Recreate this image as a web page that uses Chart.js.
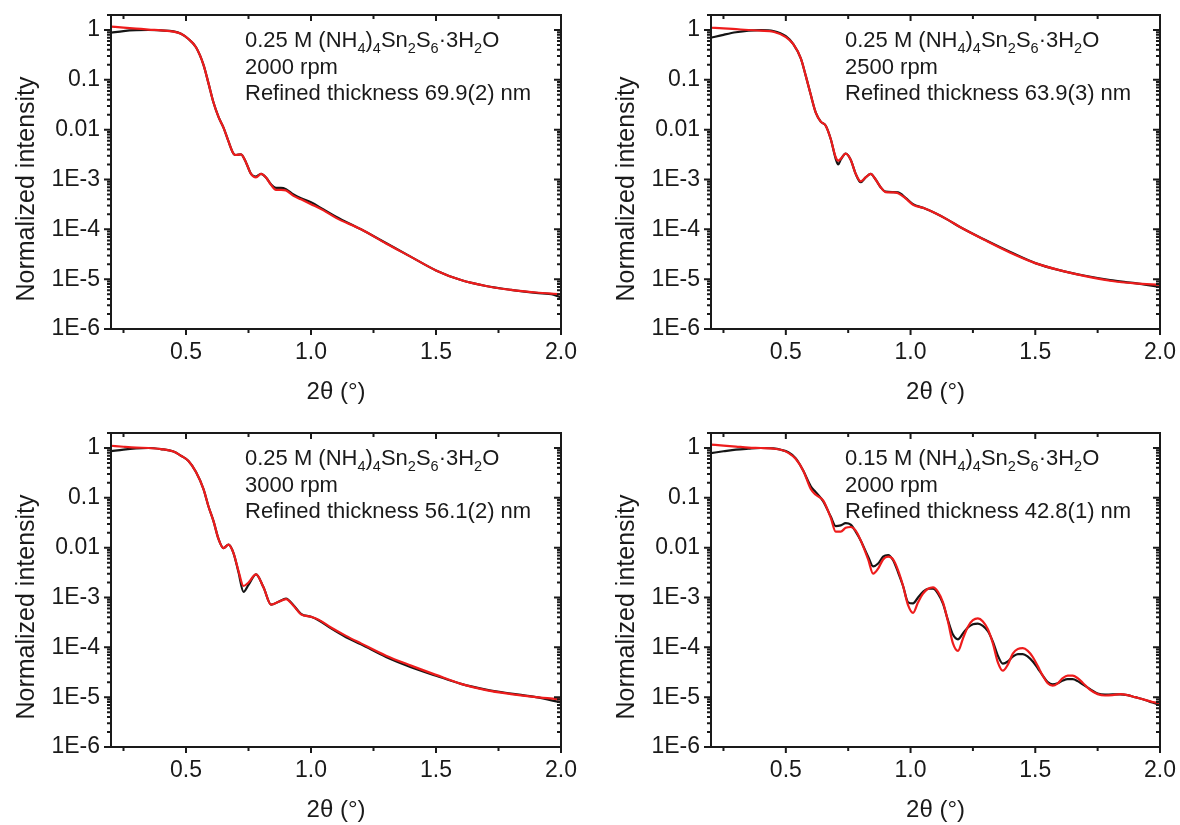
<!DOCTYPE html>
<html>
<head>
<meta charset="utf-8">
<script src="https://cdn.jsdelivr.net/npm/chart.js@4.4.0/dist/chart.umd.min.js"></script>
<style>
  body { margin: 0; background: #fff; width: 1180px; height: 825px; position: relative; overflow: hidden; }
  .panel { position: absolute; width: 590px; height: 407px; }
</style>
</head>
<body>
<div class="panel" style="left:0;top:0"><canvas id="c1" width="590" height="407"></canvas></div>
<div class="panel" style="left:600px;top:0"><canvas id="c2" width="590" height="407"></canvas></div>
<div class="panel" style="left:0;top:418px"><canvas id="c3" width="590" height="407"></canvas></div>
<div class="panel" style="left:600px;top:418px"><canvas id="c4" width="590" height="407"></canvas></div>
<script>
// --- data (2theta in degrees, normalized intensity) ---
const xs1 = [0.2, 0.25, 0.3, 0.35, 0.4, 0.45, 0.48, 0.51, 0.54, 0.57, 0.59, 0.61, 0.63, 0.65, 0.67, 0.69, 0.70, 0.72, 0.74, 0.76, 0.78, 0.80, 0.82, 0.84, 0.86, 0.88, 0.90, 0.93, 0.96, 1.0, 1.05, 1.1, 1.2, 1.3, 1.4, 1.5, 1.6, 1.7, 1.8, 1.9, 1.97, 2.0];
const obs1 = [0.88, 0.95, 0.99, 1.0, 0.98, 0.94, 0.84, 0.66, 0.45, 0.2, 0.085, 0.035, 0.018, 0.011, 0.0058, 0.0033, 0.0031, 0.0032, 0.0022, 0.0013, 0.00115, 0.0013, 0.0011, 0.0008, 0.00068, 0.00068, 0.00064, 0.0005, 0.00042, 0.00035, 0.00025, 0.00018, 0.0001, 5.3e-5, 2.8e-5, 1.5e-5, 9.6e-6, 7.3e-6, 6.1e-6, 5.3e-6, 4.9e-6, 4.3e-6];
const fit1 = [1.17, 1.12, 1.07, 1.02, 0.98, 0.93, 0.84, 0.66, 0.45, 0.2, 0.085, 0.035, 0.018, 0.011, 0.0058, 0.0033, 0.0031, 0.0032, 0.0022, 0.0013, 0.0011, 0.0013, 0.0011, 0.00078, 0.00062, 0.00062, 0.0006, 0.00047, 0.0004, 0.00032, 0.00024, 0.00017, 0.0001, 5.2e-5, 2.8e-5, 1.5e-5, 9.6e-6, 7.3e-6, 6.1e-6, 5.4e-6, 5.1e-6, 5.0e-6];

const xs2 = [0.2, 0.25, 0.3, 0.35, 0.4, 0.45, 0.5, 0.53, 0.56, 0.58, 0.6, 0.62, 0.64, 0.66, 0.68, 0.70, 0.71, 0.72, 0.74, 0.76, 0.78, 0.80, 0.82, 0.84, 0.86, 0.88, 0.90, 0.93, 0.95, 0.98, 1.01, 1.05, 1.1, 1.15, 1.2, 1.3, 1.4, 1.5, 1.6, 1.7, 1.8, 1.9, 2.0];
const obs2 = [0.70, 0.80, 0.90, 0.97, 0.99, 0.95, 0.75, 0.52, 0.27, 0.12, 0.05, 0.022, 0.0145, 0.012, 0.0065, 0.0026, 0.0020, 0.0025, 0.0033, 0.0025, 0.0013, 0.00088, 0.0011, 0.0013, 0.001, 0.0007, 0.00057, 0.00056, 0.00055, 0.00043, 0.00032, 0.00027, 0.00021, 0.000155, 0.00011, 6.1e-5, 3.5e-5, 2.1e-5, 1.5e-5, 1.17e-5, 9.6e-6, 8.3e-6, 7.0e-6];
const fit2 = [1.11, 1.08, 1.04, 1.0, 0.97, 0.92, 0.72, 0.52, 0.27, 0.12, 0.05, 0.022, 0.0145, 0.012, 0.0065, 0.0028, 0.0024, 0.0026, 0.0033, 0.0025, 0.0013, 0.00092, 0.0011, 0.0013, 0.001, 0.0007, 0.00056, 0.00055, 0.00053, 0.00042, 0.00031, 0.00027, 0.00021, 0.000155, 0.00011, 6.0e-5, 3.4e-5, 2.1e-5, 1.5e-5, 1.15e-5, 9.3e-6, 8.2e-6, 7.7e-6];

const xs3 = [0.2, 0.25, 0.3, 0.35, 0.4, 0.45, 0.48, 0.51, 0.54, 0.57, 0.59, 0.61, 0.63, 0.65, 0.67, 0.69, 0.71, 0.73, 0.75, 0.78, 0.81, 0.84, 0.87, 0.9, 0.93, 0.96, 1.0, 1.03, 1.08, 1.14, 1.2, 1.3, 1.4, 1.5, 1.6, 1.7, 1.8, 1.9, 2.0];
const obs3 = [0.86, 0.93, 0.98, 1.0, 0.95, 0.85, 0.7, 0.55, 0.33, 0.15, 0.067, 0.034, 0.015, 0.0098, 0.0115, 0.0078, 0.0032, 0.0013, 0.0018, 0.0029, 0.0016, 0.00072, 0.00082, 0.00095, 0.0007, 0.00047, 0.00041, 0.00035, 0.00024, 0.00016, 0.000115, 6.4e-5, 4.0e-5, 2.7e-5, 1.85e-5, 1.42e-5, 1.18e-5, 1.0e-5, 7.8e-6];
const fit3 = [1.11, 1.06, 1.02, 1.0, 0.95, 0.85, 0.7, 0.55, 0.33, 0.15, 0.067, 0.034, 0.015, 0.0098, 0.0115, 0.0078, 0.0034, 0.0017, 0.002, 0.0029, 0.0016, 0.00072, 0.00082, 0.00093, 0.00068, 0.00046, 0.00041, 0.00036, 0.00025, 0.00017, 0.00012, 6.8e-5, 4.3e-5, 2.8e-5, 1.85e-5, 1.38e-5, 1.15e-5, 1.0e-5, 9.0e-6];

const xs4 = [0.2, 0.25, 0.3, 0.35, 0.4, 0.45, 0.48, 0.51, 0.54, 0.57, 0.6, 0.62, 0.65, 0.68, 0.70, 0.72, 0.74, 0.76, 0.78, 0.80, 0.83, 0.85, 0.87, 0.89, 0.91, 0.93, 0.95, 0.97, 0.99, 1.01, 1.03, 1.05, 1.07, 1.09, 1.11, 1.13, 1.15, 1.17, 1.19, 1.21, 1.23, 1.25, 1.27, 1.29, 1.31, 1.33, 1.35, 1.37, 1.39, 1.41, 1.43, 1.45, 1.47, 1.49, 1.51, 1.53, 1.55, 1.57, 1.59, 1.61, 1.63, 1.65, 1.67, 1.69, 1.72, 1.75, 1.78, 1.81, 1.84, 1.87, 1.90, 1.94, 1.97, 2.0];
const obs4 = [0.79, 0.86, 0.93, 0.97, 1.0, 0.98, 0.92, 0.82, 0.62, 0.35, 0.17, 0.13, 0.085, 0.042, 0.027, 0.028, 0.031, 0.029, 0.021, 0.014, 0.0066, 0.0042, 0.0048, 0.0066, 0.0071, 0.0056, 0.0032, 0.0017, 0.0008, 0.00076, 0.001, 0.0013, 0.0015, 0.0015, 0.0012, 0.00075, 0.00035, 0.00018, 0.000145, 0.00019, 0.00025, 0.00029, 0.0003, 0.00027, 0.00021, 0.00013, 6.8e-5, 4.7e-5, 5.2e-5, 6.5e-5, 7.3e-5, 7.3e-5, 6.5e-5, 5.2e-5, 3.8e-5, 2.7e-5, 2.0e-5, 1.8e-5, 1.9e-5, 2.15e-5, 2.3e-5, 2.3e-5, 2.1e-5, 1.8e-5, 1.45e-5, 1.18e-5, 1.12e-5, 1.14e-5, 1.14e-5, 1.1e-5, 1.0e-5, 8.8e-6, 7.8e-6, 7.0e-6];
const fit4 = [1.17, 1.12, 1.07, 1.02, 1.0, 0.97, 0.92, 0.8, 0.6, 0.35, 0.15, 0.115, 0.088, 0.04, 0.021, 0.021, 0.025, 0.026, 0.022, 0.014, 0.0058, 0.003, 0.0038, 0.0058, 0.0066, 0.0058, 0.0035, 0.0017, 0.0007, 0.00049, 0.0008, 0.0012, 0.0015, 0.0016, 0.0013, 0.0008, 0.00033, 0.00012, 8.5e-5, 0.00015, 0.00026, 0.00035, 0.00038, 0.00033, 0.00023, 0.00012, 5.0e-5, 3.4e-5, 4.5e-5, 7.5e-5, 9.3e-5, 9.6e-5, 8.5e-5, 6.4e-5, 4.2e-5, 2.7e-5, 1.9e-5, 1.7e-5, 1.9e-5, 2.4e-5, 2.7e-5, 2.7e-5, 2.4e-5, 1.95e-5, 1.4e-5, 1.15e-5, 1.08e-5, 1.1e-5, 1.15e-5, 1.1e-5, 1.0e-5, 8.8e-6, 8.0e-6, 7.6e-6];

const concentrations = ['0.25', '0.25', '0.25', '0.15'];
const speeds = ['2000 rpm', '2500 rpm', '3000 rpm', '2000 rpm'];
const thicknesses = ['69.9(2)', '63.9(3)', '56.1(2)', '42.8(1)'];

const xTickValues = [0.5, 1.0, 1.5, 2.0];
const xMinorValues = [0.25, 0.75, 1.25, 1.75];
const yTickValues = [1, 0.1, 0.01, 1e-3, 1e-4, 1e-5, 1e-6];
const yTickLabels = ['1', '0.1', '0.01', '1E-3', '1E-4', '1E-5', '1E-6'];
const yTitle = 'Normalized intensity';

const FONT = "'Liberation Sans', Arial, sans-serif";
const INK = '#1a1a1a';

// rich text with subscripts for the sample description
function drawRich(ctx, parts, x, y, size) {
  let cx = x;
  parts.forEach(([txt, kind]) => {
    const s = kind === 'sub' ? size * 0.66 : size;
    const dy = kind === 'sub' ? size * 0.28 : 0;
    ctx.font = s + 'px ' + FONT;
    ctx.fillText(txt, cx, y + dy);
    cx += ctx.measureText(txt).width;
  });
}

const framePlugin = {
  id: 'frame',
  afterDraw(chart, args, opts) {
    const { ctx, chartArea: a } = chart;
    const xs = chart.scales.x, ys = chart.scales.y;
    ctx.save();
    ctx.strokeStyle = INK;
    ctx.lineWidth = 2;
    ctx.strokeRect(a.left, a.top, a.right - a.left, a.bottom - a.top);

    ctx.beginPath();
    // x ticks: out at bottom, in at top
    xTickValues.concat(xMinorValues).forEach(v => {
      const px = xs.getPixelForValue(v);
      const len = xTickValues.includes(v) ? 6 : 4;
      ctx.moveTo(px, a.bottom); ctx.lineTo(px, a.bottom + len);
      ctx.moveTo(px, a.top); ctx.lineTo(px, a.top + len);
    });
    // y ticks: decades and log minors, out on left, in on right
    for (let e = -6; e <= 0; e++) {
      for (let k = 1; k <= 9; k++) {
        const v = k * Math.pow(10, e);
        if (v > ys.max) continue;
        const py = ys.getPixelForValue(v);
        const len = k === 1 ? 7 : 4;
        ctx.moveTo(a.left, py); ctx.lineTo(a.left - len, py);
        ctx.moveTo(a.right, py); ctx.lineTo(a.right - len, py);
      }
    }
    ctx.stroke();

    // y title, sits a little below the plot centre like the original
    ctx.fillStyle = INK;
    ctx.save();
    ctx.translate(27, (a.top + a.bottom) / 2 + 17);
    ctx.rotate(-Math.PI / 2);
    ctx.font = '25px ' + FONT;
    ctx.textAlign = 'center';
    ctx.textBaseline = 'middle';
    ctx.fillText(yTitle, 0, 0);
    ctx.restore();

    // sample annotation
    ctx.textBaseline = 'alphabetic';
    const tx = a.left + 134, ty = a.top + 32, size = 22;
    drawRich(ctx, [[opts.conc + ' M (NH', 'n'], ['4', 'sub'], [')', 'n'], ['4', 'sub'], ['Sn', 'n'], ['2', 'sub'],
      ['S', 'n'], ['6', 'sub'], ['\u00b73H', 'n'], ['2', 'sub'], ['O', 'n']], tx, ty, size);
    drawRich(ctx, [[opts.speed, 'n']], tx, ty + 27, size);
    drawRich(ctx, [['Refined thickness ' + opts.thick + ' nm', 'n']], tx, ty + 53, size);
    ctx.restore();
  }
};

function makePanel(id, idx, xs, obs, fit, padRight) {
  const toPts = arr => xs.map((x, i) => ({ x: x, y: arr[i] }));
  new Chart(document.getElementById(id), {
    type: 'line',
    data: {
      datasets: [
        { label: 'fit', data: toPts(fit), borderColor: '#ee1c1c', borderWidth: 2.2, pointRadius: 0, cubicInterpolationMode: 'monotone' },
        { label: 'data', data: toPts(obs), borderColor: '#151515', borderWidth: 2.2, pointRadius: 0, cubicInterpolationMode: 'monotone' },
      ],
    },
    options: {
      responsive: false,
      animation: false,
      events: [],
      layout: { padding: { left: 0, top: 15, right: padRight, bottom: 0 } },
      plugins: {
        legend: { display: false },
        tooltip: { enabled: false },
        frame: { conc: concentrations[idx], speed: speeds[idx], thick: thicknesses[idx] },
      },
      scales: {
        x: {
          type: 'linear',
          min: 0.2,
          max: 2.0,
          grid: { display: false, drawTicks: false },
          border: { display: false },
          afterBuildTicks: s => { s.ticks = xTickValues.map(v => ({ value: v })); },
          afterFit: s => { s.height = 78; s.paddingLeft = 0; s.paddingRight = 0; },
          ticks: {
            color: INK,
            padding: 10,
            maxRotation: 0,
            font: { family: FONT, size: 23 },
            callback: v => Number(v).toFixed(1),
          },
          title: { display: true, text: '2\u03b8 (\u00b0)', color: INK, font: { family: FONT, size: 24 }, padding: { top: 0, bottom: 0 } },
        },
        y: {
          type: 'logarithmic',
          min: 1e-6,
          max: 2.0,
          grid: { display: false, drawTicks: false },
          border: { display: false },
          afterBuildTicks: s => { s.ticks = yTickValues.map(v => ({ value: v })); },
          afterFit: s => { s.width = 111; s.paddingTop = 0; s.paddingBottom = 0; },
          ticks: {
            color: INK,
            padding: 11,
            font: { family: FONT, size: 23 },
            callback: v => yTickLabels[yTickValues.findIndex(t => Math.abs(t - v) / t < 1e-6)],
          },
          title: { display: false },
        },
      },
    },
    plugins: [framePlugin],
  });
}

makePanel('c1', 0, xs1, obs1, fit1, 29);
makePanel('c2', 1, xs2, obs2, fit2, 30);
makePanel('c3', 2, xs3, obs3, fit3, 29);
makePanel('c4', 3, xs4, obs4, fit4, 30);
</script>
</body>
</html>
